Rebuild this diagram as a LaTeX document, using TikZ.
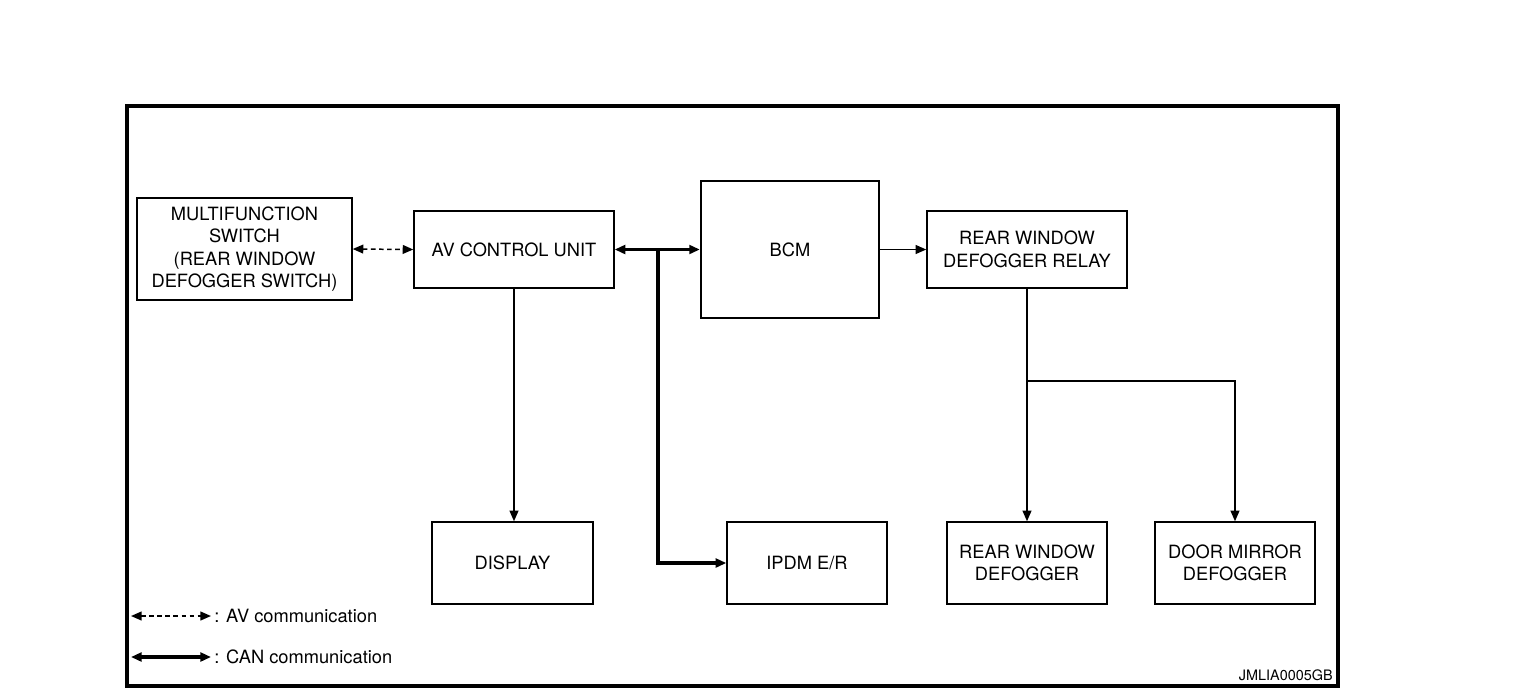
\documentclass[tikz,border=0pt]{standalone}
\usepackage{fontspec}
\setmainfont{TeX Gyre Heros}
\usetikzlibrary{arrows.meta}

\begin{document}
\begin{tikzpicture}[x=0.02cm, y=-0.02cm,
	every node/.style={font=\fontsize{10.4}{12.8}\selectfont},
	>={Triangle[length=6pt, width=5pt]},
	box/.style={draw, line width=0.85pt, align=center, inner sep=2pt},
	sig/.style={line width=0.85pt, ->},
	av/.style={line width=0.85pt, dash pattern=on 2.6pt off 2pt, <->},
	can/.style={line width=2pt}]
	\useasboundingbox (0,0) rectangle (1536,698);
	\draw[line width=1.9pt] (127,106) rectangle (1338,686);
	% units
	\node[box, minimum width=4.3cm, minimum height=2.04cm] (msw) at (244.5,249) {MULTIFUNCTION\\SWITCH\\(REAR WINDOW\\DEFOGGER SWITCH)};
	\node[box, minimum width=4cm, minimum height=1.54cm] (avcu) at (514,249.5) {AV CONTROL UNIT};
	\node[box, line width=1.4pt, minimum width=3.56cm, minimum height=2.74cm] (bcm) at (790,249.5) {BCM};
	\node[box, minimum width=4cm, minimum height=1.54cm] (relay) at (1027,249.5) {REAR WINDOW\\DEFOGGER RELAY};
	\node[box, minimum width=3.22cm, minimum height=1.64cm] (disp) at (512.5,563) {DISPLAY};
	\node[box, minimum width=3.2cm, minimum height=1.64cm] (ipdm) at (807,563) {IPDM E/R};
	\node[box, minimum width=3.2cm, minimum height=1.64cm] (rwd) at (1027,563) {REAR WINDOW\\DEFOGGER};
	\node[box, minimum width=3.2cm, minimum height=1.64cm] (dmd) at (1235,563) {DOOR MIRROR\\DEFOGGER};
	% connections
	\draw[av] (msw.east) -- (avcu.west);
	\draw[can, <->] (avcu.east) -- (bcm.west);
	\coordinate (canj) at (658,249.5);
	\draw[can, ->] (canj) |- (ipdm.west);
	\draw[sig] (bcm.east) -- (relay.west);
	\draw[sig] (avcu.south) -- (avcu.south |- disp.north);
	\draw[sig] (relay.south) -- (rwd.north);
	\coordinate (split) at (1027,381);
	\draw[sig] (split) -| (dmd.north);
	% legend
	\coordinate (ava) at (131,616);
	\coordinate (cana) at (131,657);
	\node[anchor=west, inner sep=0pt] (avt) at (211,616) {\,: AV communication};
	\node[anchor=west, inner sep=0pt] (cant) at (211,657) {\,: CAN communication};
	\draw[av] (ava) -- (avt.west);
	\draw[can, <->] (cana) -- (cant.west);
	\node[anchor=south east, inner sep=0pt, font=\fontsize{8.2}{9}\selectfont] (code) at (1333,681) {JMLIA0005GB};
\end{tikzpicture}
\end{document}
